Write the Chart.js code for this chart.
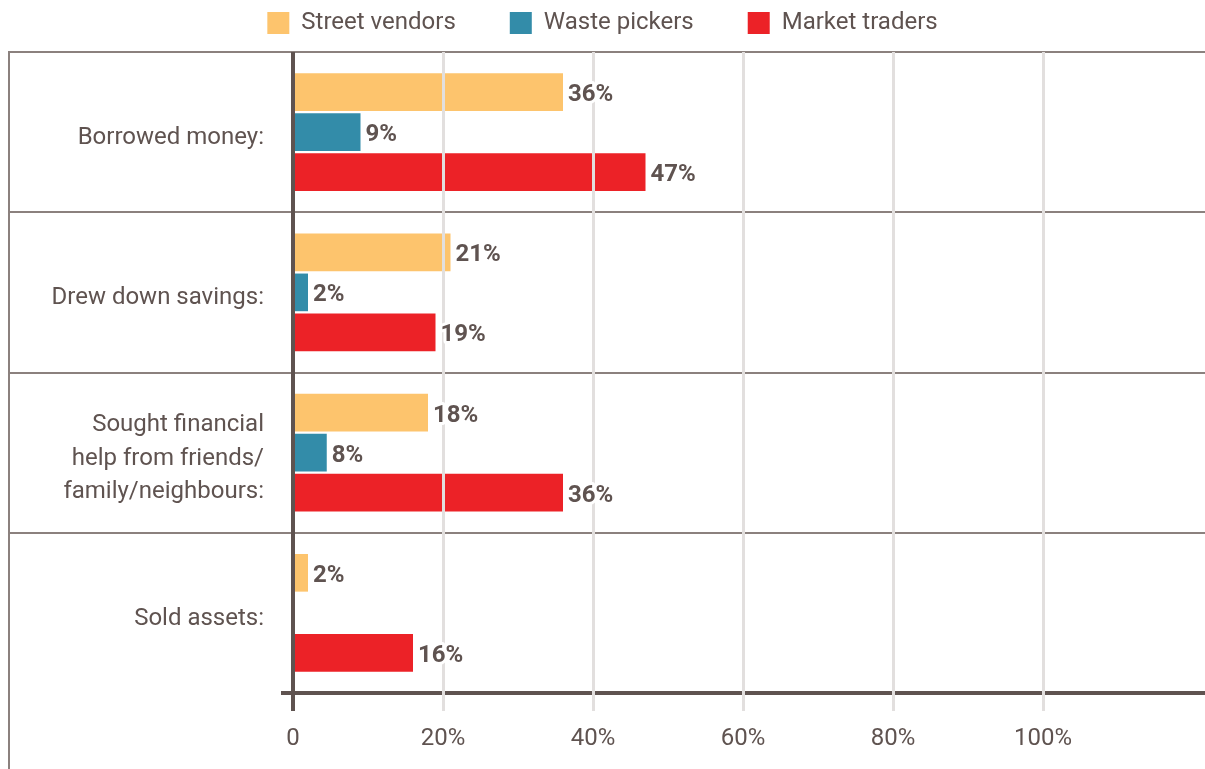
<!DOCTYPE html>
<html>
<head>
<meta charset="utf-8">
<script src="https://cdn.jsdelivr.net/npm/chart.js@4.4.0/dist/chart.umd.min.js"></script>
<style>
  html, body { margin: 0; padding: 0; background: #fff; }
</style>
</head>
<body>
<canvas id="copingChart" width="1205" height="769"></canvas>
<script>
const categories = [
  'Borrowed money:',
  'Drew down savings:',
  ['Sought financial', 'help from friends/', 'family/neighbours:'],
  'Sold assets:'
];
const vendors = [36, 21, 18, 2];
const pickers = [9, 2, 4.5, 0];          // bar lengths as drawn
const pickersPrinted = [9, 2, 8, null];  // numbers printed next to the bars
const traders = [47, 19, 36, 16];
const xTicks = [0, 20, 40, 60, 80, 100];
const xMax = 121.6;

const dark = '#5f5350';
const sepGrey = '#8b817e';
const gridGrey = '#e2dfde';

Chart.defaults.font.family = 'Roboto';

// legend sits higher than chart.js would put it, push chart area down a bit
const legendSpacing = {
  id: 'legendSpacing',
  afterInit(chart) {
    const fit = chart.legend.fit;
    chart.legend.fit = function () {
      fit.call(this);
      this.height += 7;
    };
  }
};

// outer frame line on the left + little stub of the bottom axis
const frame = {
  id: 'frame',
  beforeDatasetsDraw(chart) {
    const {ctx, chartArea} = chart;
    const y = chart.scales.y;
    const frameX = chartArea.left - y.options.grid.tickLength + 1;
    ctx.save();
    ctx.strokeStyle = sepGrey;
    ctx.lineWidth = 2;
    ctx.beginPath();
    ctx.moveTo(frameX, chartArea.top);
    ctx.lineTo(frameX, chart.height);
    ctx.stroke();
    ctx.strokeStyle = dark;
    ctx.lineWidth = 4;
    ctx.beginPath();
    ctx.moveTo(chartArea.left - 12, chartArea.bottom);
    ctx.lineTo(chartArea.left, chartArea.bottom);
    ctx.stroke();
    ctx.restore();
  }
};

const barLabels = {
  id: 'barLabels',
  afterDraw(chart) {
    const ctx = chart.ctx;
    ctx.save();
    ctx.font = 'bold 24px Roboto';
    ctx.textBaseline = 'middle';
    ctx.textAlign = 'left';
    ctx.lineJoin = 'round';
    ctx.lineWidth = 6;
    ctx.strokeStyle = '#fff';
    ctx.fillStyle = dark;
    chart.data.datasets.forEach((ds, i) => {
      chart.getDatasetMeta(i).data.forEach((bar, j) => {
        const v = ds.printed[j];
        if (v == null) return;
        const txt = v + '%';
        ctx.strokeText(txt, bar.x + 5, bar.y + 3);
        ctx.fillText(txt, bar.x + 5, bar.y + 3);
      });
    });
    ctx.restore();
  }
};

new Chart(document.getElementById('copingChart'), {
  type: 'bar',
  data: {
    labels: categories,
    datasets: [
      { label: 'Street vendors', data: vendors, printed: vendors, backgroundColor: '#fdc46d' },
      { label: 'Waste pickers', data: pickers, printed: pickersPrinted, backgroundColor: '#338ca9' },
      { label: 'Market traders', data: traders, printed: traders, backgroundColor: '#ec2227' }
    ]
  },
  options: {
    indexAxis: 'y',
    responsive: false,
    animation: false,
    devicePixelRatio: 1,
    categoryPercentage: 0.75,
    barPercentage: 0.94,
    borderWidth: 0,
    layout: { padding: { top: -43, left: 0, right: 0, bottom: 0 } },
    plugins: {
      legend: {
        position: 'top',
        labels: {
          boxWidth: 22,
          boxHeight: 22,
          padding: 54,
          color: dark,
          font: { size: 24 }
        }
      },
      tooltip: { enabled: false }
    },
    scales: {
      x: {
        min: 0,
        max: xMax,
        afterBuildTicks: s => { s.ticks = xTicks.map(v => ({ value: v })); },
        afterFit: s => { s.height = 76; },
        border: { display: false },
        grid: {
          z: 1,
          color: c => (c.tick && c.tick.value === 0) ? dark : gridGrey,
          lineWidth: c => (c.tick && c.tick.value === 0) ? 4 : 3,
          tickLength: 18
        },
        ticks: {
          color: dark,
          font: { size: 24 },
          padding: 14,
          maxRotation: 0,
          autoSkip: false,
          callback: v => v === 0 ? '0' : v + '%'
        }
      },
      y: {
        afterFit: s => { s.width = 293; },
        border: { display: false },
        grid: {
          offset: true,
          color: c => c.index === undefined ? dark : sepGrey,
          lineWidth: c => c.index === undefined ? 4 : 2,
          tickColor: c => c.index === undefined ? 'rgba(0,0,0,0)' : sepGrey,
          tickLength: 285
        },
        ticks: {
          color: dark,
          font: { size: 24, lineHeight: 1.4 },
          padding: -256,
          labelOffset: 6,
          autoSkip: false
        }
      }
    }
  },
  plugins: [legendSpacing, frame, barLabels]
});
</script>
</body>
</html>
